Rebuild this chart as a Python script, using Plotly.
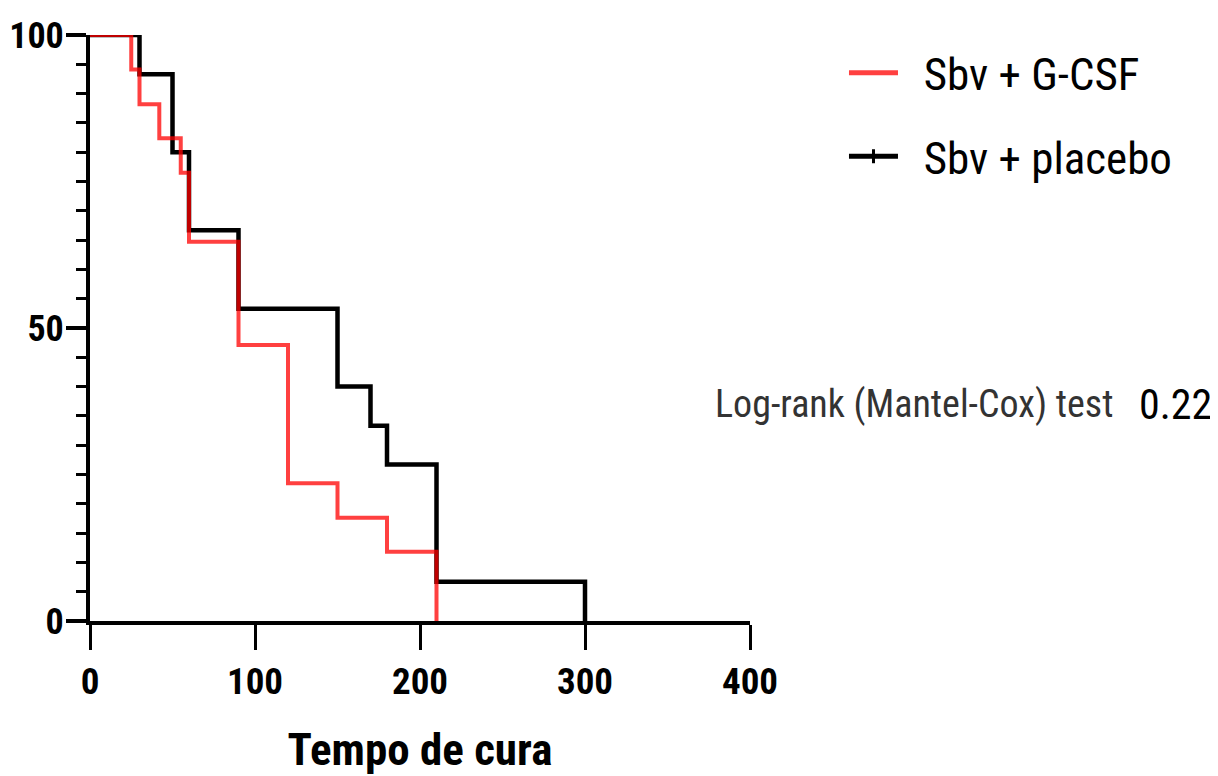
import plotly.graph_objects as go

# Kaplan-Meier style step data (time in days, % not yet cured)
gcsf_time = [0, 25, 30, 42, 55, 60, 90, 120, 150, 180, 210]
gcsf_surv = [100, 94.1, 88.2, 82.4, 76.5, 64.7, 47.1, 23.5, 17.6, 11.8, 0]
placebo_time = [0, 30, 50, 60, 90, 150, 170, 180, 210, 300]
placebo_surv = [100, 93.3, 80, 66.7, 53.3, 40, 33.3, 26.7, 6.7, 0]

x_ticks = [0, 100, 200, 300, 400]
y_ticks = [0, 50, 100]
series_names = ["Sbv + G-CSF", "Sbv + placebo"]
x_title = "Tempo de cura"
test_label = "Log-rank (Mantel-Cox) test"
p_value = "0.22"

NARROW = "Roboto Condensed, DejaVu Sans Condensed, Liberation Sans Narrow, Arial Narrow, Liberation Sans, sans-serif"
RED = "rgba(255,0,0,0.75)"

fig = go.Figure()
fig.add_trace(go.Scatter(x=placebo_time, y=placebo_surv, mode="lines", line_shape="hv",
                         line=dict(color="black", width=4.5), cliponaxis=False,
                         showlegend=False, name=series_names[1]))
fig.add_trace(go.Scatter(x=gcsf_time, y=gcsf_surv, mode="lines", line_shape="hv",
                         line=dict(color=RED, width=4), cliponaxis=False,
                         showlegend=False, name=series_names[0]))
fig.add_trace(go.Scatter(x=[None], y=[None], mode="lines", line=dict(color="#ff4040", width=5),
                         name="\u00a0\u00a0" + series_names[0], legendgroup="a"))
fig.add_trace(go.Scatter(x=[None], y=[None], mode="lines+markers", line=dict(color="black", width=5),
                         marker=dict(symbol="line-ns", size=10, line=dict(color="black", width=3)),
                         name="\u00a0\u00a0" + series_names[1], legendgroup="b"))

fig.update_layout(
    width=1218, height=776,
    margin=dict(l=82, r=476, t=27, b=163, autoexpand=False),
    paper_bgcolor="white", plot_bgcolor="white",
    font=dict(family=NARROW, color="black"),
    showlegend=True,
    legend=dict(x=1.1424, y=0.9966, xanchor="left", yanchor="top",
                font=dict(family=NARROW, size=45, color="black"),
                tracegroupgap=22, traceorder="grouped", itemwidth=49,
                bgcolor="rgba(0,0,0,0)"),
    xaxis=dict(range=[0, 400], tickvals=x_ticks, showgrid=False, zeroline=False, automargin=False,
               showline=True, linecolor="black", linewidth=4,
               ticks="outside", ticklen=25, tickwidth=3, tickcolor="black",
               tickfont=dict(family=NARROW, size=37, color="black", weight="bold"),
               title=dict(text=x_title, font=dict(family=NARROW, size=45, color="black", weight="bold"),
                          standoff=32)),
    yaxis=dict(range=[0, 100], tickvals=y_ticks, showgrid=False, zeroline=False, automargin=False,
               showline=True, linecolor="black", linewidth=4,
               ticks="outside", ticklen=20, tickwidth=4, tickcolor="black",
               ticklabelstandoff=-5,
               minor=dict(dtick=5, ticks="outside", ticklen=10, tickwidth=3, tickcolor="black"),
               tickfont=dict(family=NARROW, size=36, color="black", weight="bold")),
    annotations=[
        dict(text=test_label, xref="paper", yref="paper", x=0.944, y=0.37,
             xanchor="left", yanchor="middle", showarrow=False,
             font=dict(family=NARROW, size=38, color="#333333")),
        dict(text=p_value, xref="paper", yref="paper", x=1.586, y=0.37,
             xanchor="left", yanchor="middle", showarrow=False,
             font=dict(family=NARROW, size=42, color="black")),
    ],
)

fig.write_html("out.html")
